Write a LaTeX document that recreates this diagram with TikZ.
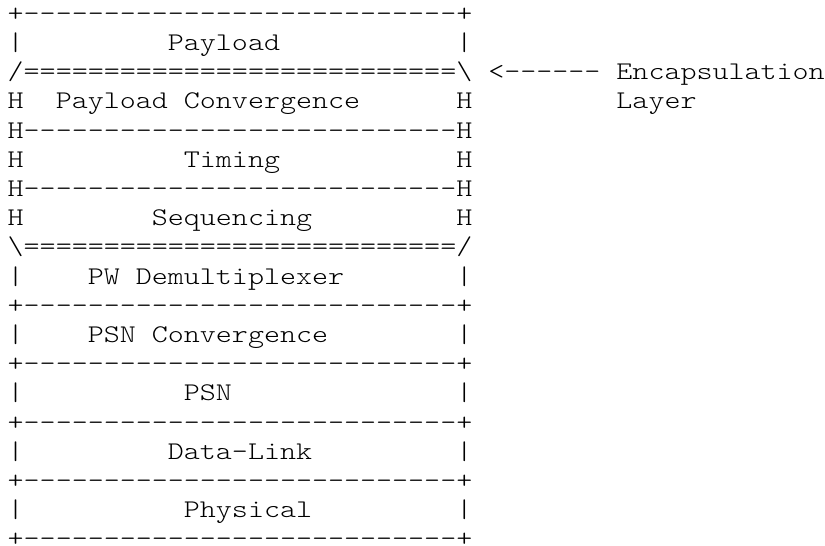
\documentclass[tikz,border=0pt]{standalone}
\usepackage{fontspec}
\setmonofont{Latin Modern Mono Light}
\newcommand\wide[1]{\scalebox{1.2}[1]{#1}}
\begin{document}
\begin{tikzpicture}[x=1pt,y=1pt,
  txt/.style={anchor=base west, inner sep=0pt, outer sep=0pt,
    font=\ttfamily\fontsize{25.43pt}{29.2pt}\selectfont}]
\useasboundingbox (0,0) rectangle (825,-546);
% rows: y = -(21.2 + 29.2 (r-1)); cols: x = 7.7 + 16.02 c
% row 1
\node[txt] (r1) at (7.7,-21.2) {\wide{+---------------------------+}};
% row 2
\node[txt] (r2l) at (7.7,-50.4) {\wide{|}};
\node[txt] (payload) at (167.9,-50.4) {\wide{Payload}};
\node[txt] (r2r) at (456.26,-50.4) {\wide{|}};
% row 3
\node[txt] (r3) at (7.7,-79.6) {\wide{/===========================\textbackslash}};
\node[txt] (arrow) at (488.3,-79.6) {\wide{<------}};
\node[txt] (encap) at (616.46,-79.6) {\wide{Encapsulation}};
% row 4
\node[txt] (r4l) at (7.7,-108.8) {\wide{H}};
\node[txt] (pconv) at (55.76,-108.8) {\wide{Payload Convergence}};
\node[txt] (r4r) at (456.26,-108.8) {\wide{H}};
\node[txt] (layer) at (616.46,-108.8) {\wide{Layer}};
% row 5
\node[txt] (r5) at (7.7,-138.0) {\wide{H---------------------------H}};
% row 6
\node[txt] (r6l) at (7.7,-167.2) {\wide{H}};
\node[txt] (timing) at (183.92,-167.2) {\wide{Timing}};
\node[txt] (r6r) at (456.26,-167.2) {\wide{H}};
% row 7
\node[txt] (r7) at (7.7,-196.4) {\wide{H---------------------------H}};
% row 8
\node[txt] (r8l) at (7.7,-225.6) {\wide{H}};
\node[txt] (seq) at (151.88,-225.6) {\wide{Sequencing}};
\node[txt] (r8r) at (456.26,-225.6) {\wide{H}};
% row 9
\node[txt] (r9) at (7.7,-254.8) {\wide{\textbackslash===========================/}};
% row 10
\node[txt] (r10l) at (7.7,-284.0) {\wide{|}};
\node[txt] (demux) at (87.8,-284.0) {\wide{PW Demultiplexer}};
\node[txt] (r10r) at (456.26,-284.0) {\wide{|}};
% row 11
\node[txt] (r11) at (7.7,-313.2) {\wide{+---------------------------+}};
% row 12
\node[txt] (r12l) at (7.7,-342.4) {\wide{|}};
\node[txt] (psnconv) at (87.8,-342.4) {\wide{PSN Convergence}};
\node[txt] (r12r) at (456.26,-342.4) {\wide{|}};
% row 13
\node[txt] (r13) at (7.7,-371.6) {\wide{+---------------------------+}};
% row 14
\node[txt] (r14l) at (7.7,-400.8) {\wide{|}};
\node[txt] (psn) at (183.92,-400.8) {\wide{PSN}};
\node[txt] (r14r) at (456.26,-400.8) {\wide{|}};
% row 15
\node[txt] (r15) at (7.7,-430.0) {\wide{+---------------------------+}};
% row 16
\node[txt] (r16l) at (7.7,-459.2) {\wide{|}};
\node[txt] (dlink) at (167.9,-459.2) {\wide{Data-Link}};
\node[txt] (r16r) at (456.26,-459.2) {\wide{|}};
% row 17
\node[txt] (r17) at (7.7,-488.4) {\wide{+---------------------------+}};
% row 18
\node[txt] (r18l) at (7.7,-517.6) {\wide{|}};
\node[txt] (phys) at (183.92,-517.6) {\wide{Physical}};
\node[txt] (r18r) at (456.26,-517.6) {\wide{|}};
% row 19
\node[txt] (r19) at (7.7,-546.8) {\wide{+---------------------------+}};
\end{tikzpicture}
\end{document}
